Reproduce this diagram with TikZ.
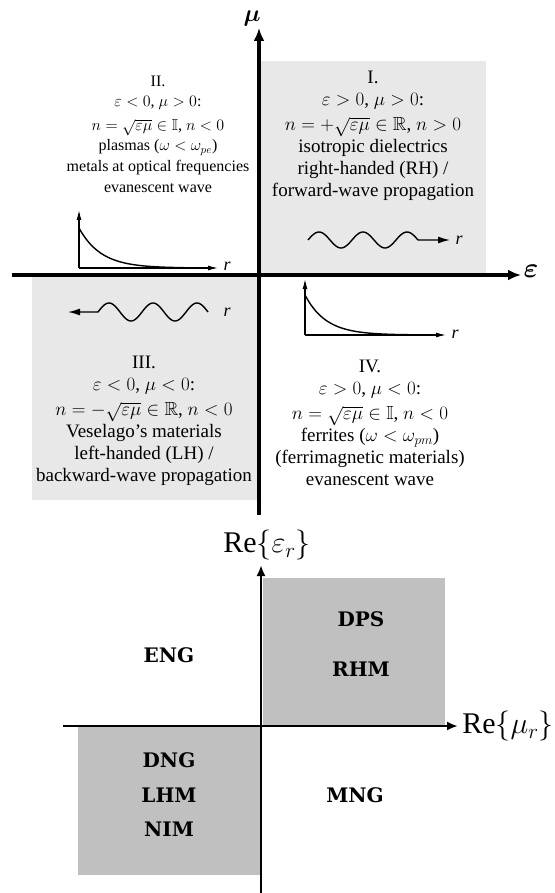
\RequirePackage{fix-cm}
\documentclass[tikz,border=0pt]{standalone}
\usepackage{amssymb}
\usepackage{fontspec}
\setmainfont{Liberation Serif}
\newfontfamily\slabfont{DejaVu Serif}
\usetikzlibrary{arrows.meta}
\definecolor{lightzone}{RGB}{232,232,232}
\definecolor{darkzone}{RGB}{192,192,192}
\begin{document}
\begin{tikzpicture}[x=1pt,y=-1pt,
  bigaxis/.style={line width=3.5pt,-{Latex[length=13pt,width=11pt]}},
  smallaxis/.style={line width=2.8pt,-{Latex[length=11pt,width=9pt]}},
  plotaxis/.style={line width=1.2pt,-{Latex[length=10pt,width=5pt]}},
  wavepath/.style={line width=1.4pt,-{Latex[length=12pt,width=7pt]}},
  decay/.style={line width=1.4pt},
  quadtext/.style={align=center,inner sep=0pt,font=\fontsize{19}{22}\selectfont},
  quadsmall/.style={align=center,inner sep=0pt,font=\fontsize{16}{20.6}\selectfont},
  rlabel/.style={inner sep=0pt,font=\fontsize{18}{18}\selectfont\itshape},
  regionlabel/.style={inner sep=0pt,font=\slabfont\bfseries\fontsize{20}{20}\selectfont},
  axislabel/.style={inner sep=0pt,font=\fontsize{30}{30}\selectfont},
  greeklabel/.style={inner sep=0pt,font=\fontsize{#1}{#1}\selectfont\boldmath},
]
\useasboundingbox (0,0) rectangle (554,893);

% ---------- upper chart: epsilon-mu plane ----------
\fill[lightzone] (260,61) rectangle (486,275);
\fill[lightzone] (32,275) rectangle (258,500);

\coordinate (eA) at (12,275);
\coordinate (eB) at (521,275);
\coordinate (mA) at (259,515);
\coordinate (mB) at (259,28);
\draw[bigaxis] (eA) -- (eB);
\draw[bigaxis] (mA) -- (mB);
\node[greeklabel=24] (muLabel) at (252,19) {$\mu$};
\node[greeklabel=28] (epsLabel) at (531,271) {$\varepsilon$};

% quadrant I
\node[quadtext] (q1) at (373,136) {I.\\
$\varepsilon > 0$, $\mu > 0$:\\[3pt]
$n = +\sqrt{\varepsilon\mu} \in \mathbb{R}$, $n > 0$\\
isotropic dielectrics\\
right-handed (RH) /\\
forward-wave propagation};
% a 2.5-period wave, 44pt per period
\draw[wavepath] plot[domain=0:110,samples=90,smooth] ({308+\x},{240-8*sin(\x*8.1818)}) -- (450,240);
\node[rlabel] (r1) at (459,240) {r};

% quadrant II
\node[quadsmall] (q2) at (158,134) {II.\\
$\varepsilon < 0$, $\mu > 0$:\\[3pt]
$n = \sqrt{\varepsilon\mu} \in \mathbb{I}$, $n < 0$\\
plasmas ($\omega < \omega_{pe}$)\\
metals at optical frequencies\\
evanescent wave};
\coordinate (o2) at (79,268);
\coordinate (v2) at (79,210);
\coordinate (h2) at (218,268);
\draw[plotaxis] (o2) -- (v2);
\draw[plotaxis] (o2) -- (h2);
\draw[decay] plot[domain=0:105,samples=60,smooth] ({79+\x},{268-40*exp(-\x/22)});
\node[rlabel] (r2) at (227,266) {r};

% quadrant III
\node[quadtext] (q3) at (144,421) {III.\\
$\varepsilon < 0$, $\mu < 0$:\\[3pt]
$n = -\sqrt{\varepsilon\mu} \in \mathbb{R}$, $n < 0$\\
Veselago's materials\\
left-handed (LH) /\\
backward-wave propagation};
\draw[wavepath] plot[domain=110:0,samples=90,smooth] ({98+\x},{312-9*sin(\x*8.1818)}) -- (68,312);
\node[rlabel] (r3) at (227,312) {r};

% quadrant IV
\node[quadtext] (q4) at (370,423) {IV.\\
$\varepsilon > 0$, $\mu < 0$:\\[3pt]
$n = \sqrt{\varepsilon\mu} \in \mathbb{I}$, $n < 0$\\
ferrites ($\omega < \omega_{pm}$)\\
(ferrimagnetic materials)\\
evanescent wave};
\coordinate (o4) at (305,335);
\coordinate (v4) at (305,279);
\coordinate (h4) at (446,335);
\draw[plotaxis] (o4) -- (v4);
\draw[plotaxis] (o4) -- (h4);
\draw[decay] plot[domain=0:105,samples=60,smooth] ({305+\x},{335-40*exp(-\x/21)});
\node[rlabel] (r4) at (455,334) {r};

% ---------- lower chart: material classes ----------
\fill[darkzone] (263,578) rectangle (445,726);
\fill[darkzone] (78,726) rectangle (260,875);

\coordinate (rA) at (63,726);
\coordinate (rB) at (458,726);
\coordinate (iA) at (261,893);
\coordinate (iB) at (261,565);
\draw[smallaxis] (rA) -- (rB);
\draw[smallaxis] (iA) -- (iB);
\node[axislabel] (reps) at (267,545) {Re$\{\varepsilon_r\}$};
\node[axislabel] (rmu) at (508,726) {Re$\{\mu_r\}$};

\node[regionlabel] (dps) at (361,619) {DPS};
\node[regionlabel] (rhm) at (361,669) {RHM};
\node[regionlabel] (eng) at (169,655) {ENG};
\node[regionlabel] (dng) at (169,760) {DNG};
\node[regionlabel] (lhm) at (169,795) {LHM};
\node[regionlabel] (nim) at (169,829) {NIM};
\node[regionlabel] (mng) at (355,795) {MNG};
\end{tikzpicture}
\end{document}
